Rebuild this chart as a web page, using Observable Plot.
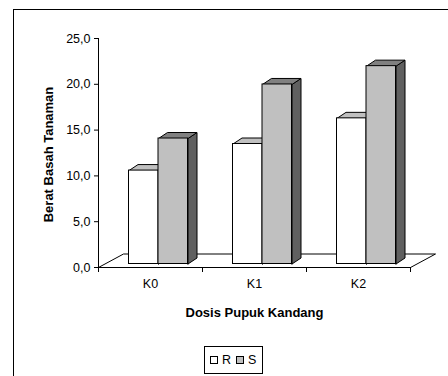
<!DOCTYPE html>
<html>
<head>
<meta charset="utf-8">
<script src="https://cdn.jsdelivr.net/npm/d3@7"></script>
<script src="https://cdn.jsdelivr.net/npm/@observablehq/plot@0.6"></script>
<style>
  html, body { margin: 0; padding: 0; background: #fff; overflow: hidden; }
  body { width: 448px; height: 376px; position: relative; font-family: "Liberation Sans", Arial, sans-serif; }
  #frame { position: absolute; left: 13px; top: 9px; width: 470px; height: 420px;
           border-left: 1px solid #000; border-top: 1px solid #000; }
  #chart { position: absolute; left: 0; top: 0; }
  #legend { position: absolute; left: 204px; top: 346px; box-sizing: border-box; height: 28px;
            border: 1px solid #000; background: #fff; display: flex; align-items: center;
            padding: 0 6px 0 5px; font-size: 12.5px; }
  #legend .sw { display: inline-block; width: 6px; height: 6px; border: 1px solid #000; margin-right: 4px; }
  #legend .item { display: flex; align-items: center; margin-right: 5px; }
  #legend .item:last-child { margin-right: 0; }
  g[aria-label="y-title"] text { letter-spacing: 0.9px; }
  g[aria-label="x-title"] text { letter-spacing: 0.4px; }
</style>
</head>
<body>
<div id="frame"></div>
<div id="chart"></div>
<div id="legend"></div>
<script>
// Berat basah tanaman per dosis pupuk kandang, two series R and S
const categories = ["K0", "K1", "K2"];
const seriesNames = ["R", "S"];
const valuesR = [10.2, 13.1, 15.9];
const valuesS = [13.7, 19.6, 21.6];
const yTicks = [0, 5, 10, 15, 20, 25];
const xTitle = "Dosis Pupuk Kandang";
const yTitle = "Berat Basah Tanaman";

// colours for the front, top and side faces of each series' 3D columns
const shades = {
  R: { front: "#ffffff", top: "#c0c0c0", side: "#a0a0a0" },
  S: { front: "#c0c0c0", top: "#808080", side: "#606060" }
};

// layout
const W = 448, H = 330, mL = 98, mR = 38, mT = 38, mB = 63;
const yMax = 25;
const kx = (W - mL - mR) / categories.length;  // px per category
const ky = (H - mT - mB) / yMax;                // px per unit
const px = p => p / kx, py = p => p / ky;       // pixel offsets -> data units

const barW = 29.5;            // column width (px)
const front = [8, 3.5];       // columns sit a little back from the floor's front edge
const depth = [9, 6];         // column depth (oblique)
const floorDepth = [25, 13.5];

const seriesValues = { R: valuesR, S: valuesS };

// floor of the 3D plot area
const floor = [
  { x: 0, y: 0 },
  { x: categories.length, y: 0 },
  { x: categories.length + px(floorDepth[0]), y: py(floorDepth[1]) },
  { x: px(floorDepth[0]), y: py(floorDepth[1]) },
  { x: 0, y: 0 }
];

function columnParts(name, j) {
  const fronts = [], tops = [], sides = [];
  seriesValues[name].forEach((v, i) => {
    const x1 = i + 0.5 + px(front[0]) - px(barW) + j * px(barW);
    const x2 = x1 + px(barW);
    const y0 = py(front[1]);
    const yt = y0 + v;
    const dx = px(depth[0]), dy = py(depth[1]);
    fronts.push({ x1, x2, y1: y0, y2: yt, cat: categories[i], value: v });
    const id = name + i;
    [[x1, yt], [x2, yt], [x2 + dx, yt + dy], [x1 + dx, yt + dy], [x1, yt]]
      .forEach(([x, y]) => tops.push({ id, x, y }));
    [[x2, y0], [x2, yt], [x2 + dx, yt + dy], [x2 + dx, y0 + dy], [x2, y0]]
      .forEach(([x, y]) => sides.push({ id, x, y }));
  });
  return { fronts, tops, sides };
}

const columnMarks = seriesNames.flatMap((name, j) => {
  const { fronts, tops, sides } = columnParts(name, j);
  const c = shades[name];
  return [
    Plot.line(sides, { x: "x", y: "y", z: "id", fill: c.side, stroke: "#000", strokeWidth: 1, strokeLinejoin: "miter" }),
    Plot.line(tops, { x: "x", y: "y", z: "id", fill: c.top, stroke: "#000", strokeWidth: 1, strokeLinejoin: "miter" }),
    Plot.rect(fronts, { x1: "x1", x2: "x2", y1: "y1", y2: "y2", fill: c.front, stroke: "#000", strokeWidth: 1 })
  ];
});

const chart = Plot.plot({
  width: W,
  height: H,
  marginLeft: mL,
  marginRight: mR,
  marginTop: mT,
  marginBottom: mB,
  style: { fontFamily: "'Liberation Sans', Arial, sans-serif", fontSize: "12.5px", background: "transparent", overflow: "visible", color: "#000" },
  x: { type: "linear", domain: [0, categories.length] },
  y: { type: "linear", domain: [0, yMax] },
  marks: [
    Plot.line(floor, { x: "x", y: "y", fill: "#fff", stroke: "#000", strokeWidth: 1, strokeLinejoin: "miter" }),
    ...columnMarks,
    Plot.ruleX([0], { y1: 0, y2: yMax, stroke: "#000" }),
    Plot.axisY({ ticks: yTicks, tickSize: 4, tickPadding: 4, tickFormat: d => d.toFixed(1).replace(".", ","), label: null }),
    Plot.axisX({ ticks: d3.range(categories.length + 1), tickSize: 5, tickFormat: () => "", label: null }),
    Plot.axisX({ ticks: categories.map((c, i) => i + 0.5), tickSize: 0, tickPadding: 12,
                 tickFormat: d => categories[Math.floor(d)], label: null }),
    Plot.text([yTitle], { text: d => d, frameAnchor: "left", dx: -50, dy: 1.5, rotate: -90,
                          textAnchor: "middle", lineAnchor: "middle", fontWeight: "bold", fontSize: 13, ariaLabel: "y-title" }),
    Plot.text([xTitle], { text: d => d, frameAnchor: "bottom", dy: 45, textAnchor: "middle", lineAnchor: "middle",
                          fontWeight: "bold", fontSize: 13, ariaLabel: "x-title" })
  ]
});
document.getElementById("chart").appendChild(chart);

// legend below the chart
const legend = document.getElementById("legend");
seriesNames.forEach(name => {
  const item = document.createElement("span");
  item.className = "item";
  const sw = document.createElement("span");
  sw.className = "sw";
  sw.style.background = shades[name].front;
  item.appendChild(sw);
  item.appendChild(document.createTextNode(name));
  legend.appendChild(item);
});
</script>
</body>
</html>
